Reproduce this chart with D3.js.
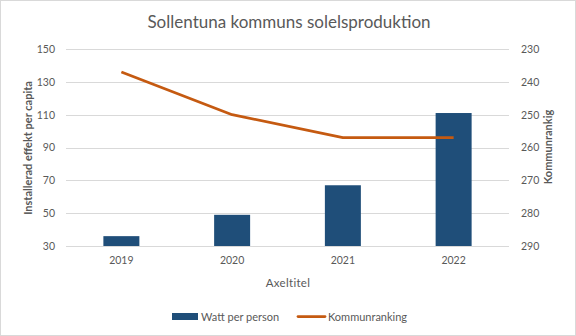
<!DOCTYPE html>
<html><head><meta charset="utf-8">
<script src="https://cdn.jsdelivr.net/npm/d3@7"></script>
<style>
body{margin:0;background:#fff;}
svg{display:block;font-family:Lato, "Liberation Sans", sans-serif;}
</style></head>
<body>
<svg id="c" width="576" height="336"></svg>
<script>
const years = ["2019","2020","2021","2022"];
const wattPerPerson = [36, 49, 67, 111];
const kommunranking = [237, 250, 257, 257];
const leftTicks = [30, 50, 70, 90, 110, 130, 150];
const rightTicks = [230, 240, 250, 260, 270, 280, 290];
const title = "Sollentuna kommuns solelsproduktion";
const xTitle = "Axeltitel";
const yLeftTitle = "Installerad effekt per capita";
const yRightTitle = "Kommunrankig";
const seriesNames = ["Watt per person", "Kommunranking"];

const svg = d3.select("#c");
const W = 576, H = 336;
const m = {left:66, right:67, top:49, bottom:90};
const pw = W - m.left - m.right, ph = H - m.top - m.bottom;
const FONT = "Lato, sans-serif";

svg.append("rect").attr("x",0.5).attr("y",0.5).attr("width",W-1).attr("height",H-1)
  .attr("fill","#fff").attr("stroke","#d9d9d9");

const x = d3.scaleBand().domain(years).range([m.left, m.left+pw]).padding(0);
const yL = d3.scaleLinear().domain([30,150]).range([m.top+ph, m.top]);
const yR = d3.scaleLinear().domain([230,290]).range([m.top, m.top+ph]);

// gridlines
svg.append("g").selectAll("line").data(leftTicks).join("line")
  .attr("x1", m.left).attr("x2", m.left+pw)
  .attr("y1", d=>Math.round(yL(d))+0.5).attr("y2", d=>Math.round(yL(d))+0.5)
  .attr("stroke","#d9d9d9").attr("stroke-width",1);

// left axis
const gL = svg.append("g").attr("transform",`translate(${m.left-11},0)`)
  .call(d3.axisLeft(yL).tickValues(leftTicks).tickSize(0).tickPadding(0));
gL.select(".domain").remove();
gL.selectAll("text").attr("fill","#595959").style("font-size","10.5px").style("font-family",FONT);

// right axis
const gR = svg.append("g").attr("transform",`translate(${m.left+pw+12},0)`)
  .call(d3.axisRight(yR).tickValues(rightTicks).tickSize(0).tickPadding(0));
gR.select(".domain").remove();
gR.selectAll("text").attr("fill","#595959").style("font-size","10.5px").style("font-family",FONT);

// x axis
const gX = svg.append("g").attr("transform",`translate(0,${m.top+ph+11})`)
  .call(d3.axisBottom(x).tickSize(0).tickPadding(0));
gX.select(".domain").remove();
gX.selectAll("text").attr("fill","#595959").style("font-size","10.5px").style("font-family",FONT);

// bars
const bw = x.bandwidth()*0.325;
svg.append("g").selectAll("rect").data(years).join("rect")
  .attr("x", (d)=>x(d)+x.bandwidth()/2-bw/2)
  .attr("width", bw)
  .attr("y", (d,i)=>yL(wattPerPerson[i]))
  .attr("height", (d,i)=>yL(30)-yL(wattPerPerson[i]))
  .attr("fill","#1f4e79");

// line
const line = d3.line().x((d,i)=>x(years[i])+x.bandwidth()/2).y(d=>yR(d));
svg.append("path").datum(kommunranking).attr("d", line)
  .attr("fill","none").attr("stroke","#c55a11").attr("stroke-width",2.75)
  .attr("stroke-linejoin","round");

// titles
svg.append("text").attr("x", 289).attr("y", 28).attr("text-anchor","middle")
  .attr("fill","#595959").style("font-size","17px").text(title);
svg.append("text").attr("x", 288).attr("y", 287).attr("text-anchor","middle")
  .attr("fill","#595959").style("font-size","11.5px").style("letter-spacing","0.3px").text(xTitle);
svg.append("text").attr("transform",`translate(32,${148}) rotate(-90)`)
  .attr("text-anchor","middle").attr("fill","#595959").style("font-size","11px")
  .style("font-weight","bold").text(yLeftTitle);
svg.append("text").attr("transform",`translate(552,${147}) rotate(-90)`)
  .attr("text-anchor","middle").attr("fill","#595959").style("font-size","11px")
  .style("font-weight","bold").text(yRightTitle);

// legend
const lg = svg.append("g");
lg.append("rect").attr("x",172).attr("y",313).attr("width",26).attr("height",7).attr("fill","#1f4e79");
lg.append("text").attr("x",201).attr("y",320.5).attr("fill","#595959").style("font-size","11px").text(seriesNames[0]);
lg.append("line").attr("x1",298).attr("x2",325).attr("y1",316.5).attr("y2",316.5)
  .attr("stroke","#c55a11").attr("stroke-width",2.75).attr("stroke-linecap","round");
lg.append("text").attr("x",328).attr("y",320.5).attr("fill","#595959").style("font-size","11px").text(seriesNames[1]);
</script>
</body></html>
